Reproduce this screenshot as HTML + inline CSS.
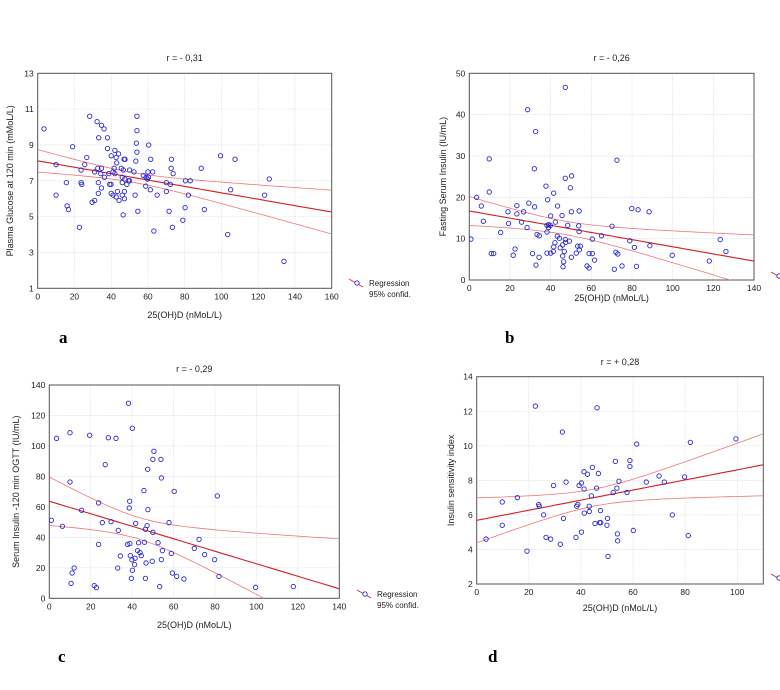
<!DOCTYPE html>
<html><head><meta charset="utf-8"><style>
html,body{margin:0;padding:0;background:#fff;}
svg{display:block;font-family:"Liberation Sans",sans-serif;}
</style></head><body>
<svg id="chart" width="780" height="690" viewBox="0 0 780 690" xmlns="http://www.w3.org/2000/svg"></svg>
<script>
// Panel a data: 25(OH)D vs plasma glucose 120 min
const aX=[3.4,10,10,19,15.6,16,16.7,22.7,23.6,23.6,24,25.6,26.7,28.3,29.6,31,31,32.3,32.7,33,33,33.2,34.3,34.7,34.7,34.7,36.1,36.3,38,38,38.7,39.2,39.9,40,40,41,41,41.6,42,42,42.7,42.7,43,43.4,44,44.3,45.5,46,46,46,46.5,46.6,47,47.5,47.2,47.2,47.4,48.5,49.4,50,50,52.4,53,53.4,53.7,54,54,54,54.5,57.5,58.8,59,59.7,60.3,60,60.4,61.3,61.5,62.6,63.2,65,70,70,71.5,72.2,72.6,72.8,73.3,73.7,79,80.2,80.4,82,83,89,90.7,99.5,103.4,105,107.4,123.5,126,134];
const aY=[9.9,6.2,7.9,8.9,6.9,5.6,5.4,4.4,7.6,6.9,6.8,7.9,8.3,10.6,5.8,5.9,7.5,10.3,7.7,6.9,6.3,9.4,7.4,10.1,7.7,6.6,9.9,7.2,9.4,8.8,7.4,6.8,6.8,8.4,6.3,6.2,7.5,7.7,8.7,7.4,8.3,6.1,8.0,6.4,8.5,5.9,7.7,7.2,6.9,6.2,5.1,7.6,8.2,8.2,6.4,6.0,7.1,6.8,7.0,7.6,7.0,7.5,6.2,8.1,9.1,10.6,9.8,8.6,5.3,7.3,6.7,7.2,7.1,7.2,7.5,9.0,6.5,8.2,7.5,4.2,6.2,6.9,6.4,5.3,6.8,7.7,8.2,4.4,7.4,4.8,5.5,7.0,6.2,7.0,7.7,5.4,8.4,4.0,6.5,8.2,6.2,7.1,2.5];
const aXTicks=["0","20","40","60","80","100","120","140","160"];
const aYTicks=["1","3","5","7","9","11","13"];
// Panel b data: fasting serum insulin
const bX=[0.8,3.6,5.9,6.9,9.8,9.8,10.8,12,15.4,19,19.3,21.6,22.5,23.4,23.4,25.7,26.7,28.4,28.7,29.3,31.1,32,32.1,32.6,32.8,33.3,34.4,34.3,37.7,38.2,38.2,38.2,38.5,39,39,39.8,40,40,41.3,41.5,41.5,42.1,42.3,43.3,43.4,44.3,44.7,45.6,45.9,45.9,46.1,46.4,46.7,47.2,47.2,47.2,47.4,48.4,49.2,49.7,50.2,50.3,50.2,52.6,53.3,53.8,54,54,54.1,54.6,57.9,58.9,58.9,60.5,60.5,61.6,65,70.2,71.3,72.1,73,72.6,75.1,78.9,79.9,81.2,82.2,83,88.4,88.8,99.8,118,123.4,126.2];
const bY=[9.9,20,17.9,14.2,29.3,21.3,6.4,6.4,11.5,16.5,13.7,6,7.5,18,16,14,16.5,12.7,41.2,18.6,6.4,26.9,17.7,35.9,3.6,11,10.7,5.5,22.7,13.2,11.6,6.5,19.4,12.7,13.4,13.2,6.5,15.5,6.9,8,21,9,14,10.6,17.9,10.1,7.8,15.6,5.8,8.5,3.2,4.4,6.9,46.6,24.6,9.8,9.1,13.2,9.4,22.3,16.5,25.2,5.5,6.5,8.2,13.1,16.7,11.7,7.3,8.2,3.4,2.9,6.4,6.4,9.9,4.8,10.7,13,2.6,6.7,6.3,29,3.4,9.5,17.3,7.9,3.3,17,16.5,8.3,6,4.6,9.8,6.9];
const bXTicks=["0","20","40","60","80","100","120","140"];
const bYTicks=["0","10","20","30","40","50"];
// Panel c data: serum insulin 120 min OGTT
const cX=[1,3.5,6.3,10,10,10.5,11,12,15.6,19.5,21.7,22.7,23.8,23.8,25.6,27,28.5,29.8,32.2,33,33.3,34.3,37.8,38.2,38.8,38.6,38.9,39.1,39.6,40.1,39.9,40.1,41.2,41.4,41.7,42.6,43.1,43.8,44.4,45.7,45.9,46.4,46.4,46.7,47.2,47.5,47.6,49.7,50,50,50.5,52.5,53.3,54.1,53.9,54.1,54.6,57.8,58.9,59.4,60.3,61.5,65,70,72.3,75,79.8,81.1,81.9,99.6,117.8];
const cY=[51.2,105,47.3,108.7,76.3,9.8,16.6,19.9,57.8,107,8.3,7,62.6,35.4,49.7,87.7,105.4,50.3,105,19.9,44.6,27.8,35.4,128,63.7,59.3,35.9,28,13.1,111.6,25.2,18.4,22.1,26.3,49.2,31.3,36.5,30,28,70.7,36.8,45.3,13.1,23.2,47.7,84.7,58.2,24.3,43.3,91.2,96.5,36.5,7.7,25.4,91.2,79,31.3,49.7,29.5,16.6,70.2,14.4,12.7,32.8,38.7,28.7,25.4,67.2,14.4,7.2,7.7];
const cXTicks=["0","20","40","60","80","100","120","140"];
const cYTicks=["0","20","40","60","80","100","120","140"];
// Panel d data: insulin sensitivity index
const dX=[3.6,9.8,9.8,15.6,19.3,22.5,23.8,24,25.7,26.6,28.4,29.5,32.1,32.9,33.3,34.3,38.1,38.4,38.8,39.3,40.2,40.2,41.2,41.2,41.3,42.5,43.2,43.2,44,44.4,45.4,46,46.2,46.7,47.2,47.6,47.5,50,50.2,50.4,52.4,53.2,53.8,54,54.1,54.6,57.7,58.8,58.8,60.1,61.4,65.1,70,72,75.1,79.8,81.2,82,99.5];
const dY=[4.6,6.75,5.4,7.0,3.9,12.3,6.6,6.5,6.0,4.7,4.6,7.7,4.3,10.8,5.8,7.9,4.7,6.5,6.6,7.7,7.85,5.0,8.5,7.5,6.1,8.35,6.5,6.2,7.1,8.75,5.5,7.55,12.2,8.4,5.55,5.55,6.25,5.4,5.8,3.6,7.3,9.1,7.55,4.9,4.5,7.95,7.3,9.15,8.8,5.1,10.1,7.9,8.25,7.9,6.0,8.2,4.8,10.2,10.4];
const dXTicks=["0","20","40","60","80","100"];
const dYTicks=["2","4","6","8","10","12","14"];

const NS="http://www.w3.org/2000/svg";
const svg=document.getElementById('chart');
function mk(tag,attrs,parent){const e=document.createElementNS(NS,tag);for(const k in attrs)e.setAttribute(k,attrs[k]);(parent||svg).appendChild(e);return e;}

function panel(id,xs,ys,xt,yt,box,xmax,ymin,ymax,title,ytitle,ytx,letter,lx,ly,tty,xly){
  const g=mk('g',{});
  
  
  const {L,R,T,B}=box;
  const sx=v=>L+(v/xmax)*(R-L);
  const sy=v=>B-(v-ymin)/(ymax-ymin)*(B-T);
  const clip=mk('clipPath',{id:'clip'+id},g);
  mk('rect',{x:L,y:T,width:R-L,height:B-T},clip);
  // grid + ticks
  xt.forEach(t=>{const v=+t;const x=sx(v);
    const gl=mk('line',{x1:x,x2:x,y1:T,y2:B,stroke:'#c8c8c8','stroke-width':0.6,'stroke-dasharray':'1,1.5'},g);
    
    
    const tl=mk('text',{x:x,y:B+11,'font-size':8.5,'text-anchor':'middle',fill:'#222'},g);tl.textContent=t;
    
    
  });
  yt.forEach(t=>{const v=+t;const y=sy(v);
    const gl=mk('line',{x1:L,x2:R,y1:y,y2:y,stroke:'#c8c8c8','stroke-width':0.6,'stroke-dasharray':'1,1.5'},g);
    
    
    const tl=mk('text',{x:L-4,y:y+3,'font-size':8.5,'text-anchor':'end',fill:'#222'},g);tl.textContent=t;
    
    
  });
  const fr=mk('rect',{x:L,y:T,width:R-L,height:B-T,fill:'none',stroke:'#555','stroke-width':1},g);
  
  
  // regression
  const n=xs.length;let mx=0,my=0;for(let i=0;i<n;i++){mx+=xs[i];my+=ys[i];}mx/=n;my/=n;
  let sxx=0,sxy=0;for(let i=0;i<n;i++){sxx+=(xs[i]-mx)**2;sxy+=(xs[i]-mx)*(ys[i]-my);}
  const b=sxy/sxx,a=my-b*mx;let sse=0;for(let i=0;i<n;i++)sse+=(ys[i]-a-b*xs[i])**2;
  const s=Math.sqrt(sse/(n-2)),tc=1.99;
  let pr='',pu='',pl='';
  for(let k=0;k<=60;k++){const x=xmax*k/60;const yh=a+b*x;const h=tc*s*Math.sqrt(1/n+(x-mx)**2/sxx);
    const c=k?'L':'M';pr+=c+sx(x).toFixed(1)+','+sy(yh).toFixed(1);
    pu+=c+sx(x).toFixed(1)+','+sy(yh+h).toFixed(1);pl+=c+sx(x).toFixed(1)+','+sy(yh-h).toFixed(1);}
  const gc=mk('g',{'clip-path':'url(#clip'+id+')'},g);
  const l1=mk('path',{d:pu,fill:'none',stroke:'#ee7777','stroke-width':0.8},gc);
  
  
  const l2=mk('path',{d:pl,fill:'none',stroke:'#ee7777','stroke-width':0.8},gc);
  
  
  const l3=mk('path',{d:pr,fill:'none',stroke:'#d42020','stroke-width':1.1},gc);
  
  
  for(let i=0;i<n;i++){
    const p=mk('circle',{cx:sx(xs[i]),cy:sy(ys[i]),r:2.2,fill:'none',stroke:'#2a2ad0','stroke-width':0.9},gc);
    
    
  }
  const tt=mk('text',{x:(L+R)/2,y:tty,'font-size':9,'text-anchor':'middle',fill:'#222'},g);tt.textContent=title;
  
  
  const xl=mk('text',{x:(L+R)/2,y:xly,'font-size':9,'text-anchor':'middle',fill:'#222'},g);xl.textContent='25(OH)D (nMoL/L)';
  
  
  const cy=(T+B)/2;
  const yl=mk('text',{x:ytx,y:cy,'font-size':9,'text-anchor':'middle',fill:'#222',transform:'rotate(-90 '+ytx+' '+cy+')'},g);yl.textContent=ytitle;
  
  
  const lt=mk('text',{x:lx,y:ly,'font-size':17,'font-weight':'bold','font-family':'Liberation Serif,serif',fill:'#000'},g);lt.textContent=letter;
  
  
}
panel('a',aX,aY,aXTicks,aYTicks,{L:37.7,R:331.7,T:73.3,B:288.3},160,1,13,'r = - 0,31','Plasma Glucose at 120 min (mMoL/L)',13,'a',59,343,61,318);
panel('b',bX,bY,bXTicks,bYTicks,{L:469.3,R:754,T:73.3,B:280},140,0,50,'r = - 0,26','Fasting Serum Insulin (IU/mL)',446,'b',505,343,61,301);
panel('c',cX,cY,cXTicks,cYTicks,{L:49.3,R:339.3,T:385,B:598.3},140,0,140,'r = - 0,29','Serum Insulin -120 min OGTT (IU/mL)',19,'c',58,662,372,628);
panel('d',dX,dY,dXTicks,dYTicks,{L:476.7,R:763.3,T:376.7,B:584},110,2,14,'r = + 0,28','Insulin sensitivity index',454,'d',488,662,365,611);

function legend(id,x,y){
  const g=mk('g',{});
  
  
  mk('line',{x1:x,y1:y-4,x2:x+14,y2:y+4,stroke:'#d42020','stroke-width':0.8},g);
  mk('circle',{cx:x+8,cy:y,r:2.2,fill:'#fff',stroke:'#2a2ad0','stroke-width':0.9},g);
  const t1=mk('text',{x:x+20,y:y+3,'font-size':8,fill:'#222'},g);t1.textContent='Regression';
  
  
  const t2=mk('text',{x:x+20,y:y+14,'font-size':8,fill:'#222'},g);t2.textContent='95% confid.';
  
  
}
legend('a',349,283);
legend('b',771,276);
legend('c',357,594);
legend('d',771,578);
</script>
</body></html>
